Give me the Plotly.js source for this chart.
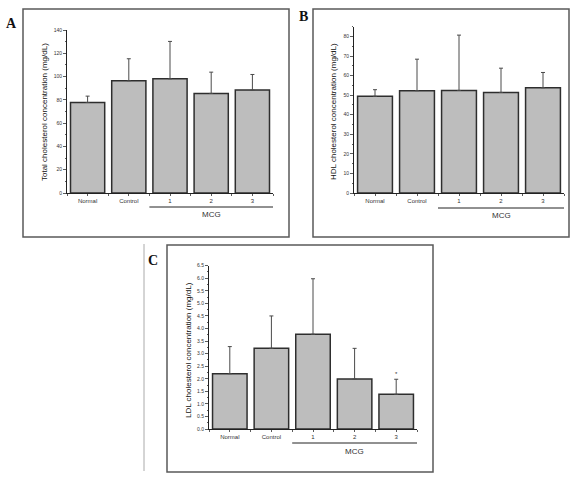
<!DOCTYPE html>
<html>
<head>
<meta charset="utf-8">
<script src="https://cdn.plot.ly/plotly-3.0.1.min.js"></script>
<style>
  html, body { margin: 0; padding: 0; background: #ffffff; }
  #chart { width: 588px; height: 481px; }
</style>
</head>
<body>
<div id="chart"></div>
<script>
// Groups on the x axis (the last three are MCG doses)
const categories = ["Normal", "Control", "1", "2", "3"];

// Panel A: total cholesterol (mg/dL), mean and SD
const totalMean = [77.7, 96.4, 98.1, 85.5, 88.4];
const totalSD   = [5.5, 18.9, 32.1, 18.3, 13.4];

// Panel B: HDL cholesterol (mg/dL)
const hdlMean = [49.4, 52.3, 52.4, 51.4, 53.8];
const hdlSD   = [3.4, 16.1, 28.3, 12.4, 7.8];

// Panel C: LDL cholesterol (mg/dL)
const ldlMean = [2.20, 3.21, 3.77, 1.99, 1.38];
const ldlSD   = [1.08, 1.29, 2.21, 1.22, 0.60];

const W = 588, H = 481;
const px = v => v / W;          // pixel -> paper x
const py = v => 1 - v / H;      // pixel -> paper y

const sans = "Liberation Sans, Arial, sans-serif";
const yTickFont = { family: sans, size: 5, color: "#333" };
const xTickFont = { family: sans, size: 6, color: "#333" };
const positions = categories.map((c, i) => i);

function barTrace(means, sds, xa, ya) {
  return {
    type: "bar",
    x: positions,
    y: means,
    xaxis: xa,
    yaxis: ya,
    width: 0.83,
    marker: { color: "#bdbdbd", line: { color: "#2e2e2e", width: 1.5 } },
    error_y: {
      type: "data",
      symmetric: false,
      array: sds,
      arrayminus: sds.map(() => 0),
      color: "#4a4a4a",
      thickness: 1,
      width: 2
    },
    hoverinfo: "skip",
    showlegend: false
  };
}

function xAxis(domain, anchor) {
  return {
    domain: domain,
    anchor: anchor,
    range: [-0.5, 4.5],
    tickmode: "array",
    tickvals: positions,
    ticktext: categories,
    ticks: "outside",
    ticklen: 2,
    tickwidth: 0.8,
    tickcolor: "#333",
    minor: { tick0: 0.5, dtick: 1, ticks: "outside", ticklen: 2, tickcolor: "#333", tickwidth: 0.8 },
    showline: true,
    linecolor: "#222",
    linewidth: 1,
    showgrid: false,
    zeroline: false,
    fixedrange: true,
    tickfont: xTickFont
  };
}

function yAxis(domain, anchor, range, dtick, minorDtick, fmt) {
  return {
    domain: domain,
    anchor: anchor,
    range: range,
    tick0: 0,
    dtick: dtick,
    tickformat: fmt,
    ticks: "outside",
    ticklen: 3,
    tickwidth: 0.8,
    tickcolor: "#333",
    minor: { dtick: minorDtick, ticks: "outside", ticklen: 1.5, tickcolor: "#333", tickwidth: 0.8 },
    showline: true,
    linecolor: "#222",
    linewidth: 1,
    showgrid: false,
    zeroline: false,
    fixedrange: true,
    tickfont: yTickFont
  };
}

const data = [
  barTrace(totalMean, totalSD, "x", "y"),
  barTrace(hdlMean, hdlSD, "x2", "y2"),
  barTrace(ldlMean, ldlSD, "x3", "y3")
];

const boxLine = { color: "#5a5a5a", width: 1.5 };
const groupLine = { color: "#222222", width: 1 };

const shapes = [
  // panel frames
  { type: "rect", xref: "paper", yref: "paper", x0: px(23), x1: px(289), y0: py(237), y1: py(9), line: boxLine },
  { type: "rect", xref: "paper", yref: "paper", x0: px(313), x1: px(569), y0: py(237), y1: py(9), line: boxLine },
  { type: "rect", xref: "paper", yref: "paper", x0: px(167), x1: px(433), y0: py(472), y1: py(245), line: boxLine },
  // thin rule to the left of panel C
  { type: "line", xref: "paper", yref: "paper", x0: px(144), x1: px(144), y0: py(244), y1: py(471), line: { color: "#aaaaaa", width: 1 } },
  // MCG group brackets under doses 1-3
  { type: "line", xref: "x", yref: "paper", x0: 1.5, x1: 4.5, y0: py(207), y1: py(207), line: groupLine },
  { type: "line", xref: "x2", yref: "paper", x0: 1.5, x1: 4.5, y0: py(208), y1: py(208), line: groupLine },
  { type: "line", xref: "x3", yref: "paper", x0: 1.5, x1: 4.5, y0: py(443), y1: py(443), line: groupLine }
];

const letterFont = { family: "Liberation Serif, Times New Roman, serif", size: 14, color: "#111" };
const titleFont = { family: sans, size: 8, color: "#111" };
const mcgFont = { family: sans, size: 8, color: "#333" };

// every annotation is centred on its anchor point
const centred = { xanchor: "center", yanchor: "middle", showarrow: false };

const annotations = [
  { text: "<b>A</b>", xref: "paper", yref: "paper", x: px(12), y: py(23), font: letterFont },
  { text: "<b>B</b>", xref: "paper", yref: "paper", x: px(303), y: py(16), font: letterFont },
  { text: "<b>C</b>", xref: "paper", yref: "paper", x: px(153), y: py(260), font: letterFont },

  { text: "Total cholesterol concentration (mg/dL)", xref: "paper", yref: "paper", x: px(44), y: py(112), textangle: -90, font: titleFont },
  { text: "HDL cholesterol concentration (mg/dL)", xref: "paper", yref: "paper", x: px(333), y: py(112), textangle: -90, font: titleFont },
  { text: "LDL cholesterol concentration (mg/dL)", xref: "paper", yref: "paper", x: px(188), y: py(350), textangle: -90, font: titleFont },

  { text: "MCG", xref: "x", yref: "paper", x: 3, y: py(214), font: mcgFont },
  { text: "MCG", xref: "x2", yref: "paper", x: 3, y: py(215), font: mcgFont },
  { text: "MCG", xref: "x3", yref: "paper", x: 3, y: py(451), font: mcgFont },

  // significance mark above the highest MCG dose in panel C
  { text: "*", xref: "x3", yref: "y3", x: 4, y: ldlMean[4] + ldlSD[4], yshift: 5, font: { family: sans, size: 6, color: "#333" } }
].map(a => Object.assign({}, centred, a));

const layout = {
  width: W,
  height: H,
  margin: { l: 0, r: 0, t: 0, b: 0 },
  paper_bgcolor: "#ffffff",
  plot_bgcolor: "rgba(0,0,0,0)",
  bargap: 0,
  showlegend: false,
  xaxis:  xAxis([px(67), px(273)], "y"),
  yaxis:  yAxis([py(193), py(30)], "x", [0, 140], 20, 10, "d"),
  xaxis2: xAxis([px(354), px(564)], "y2"),
  yaxis2: yAxis([py(193), py(26.7)], "x2", [0, 85], 10, 5, "d"),
  xaxis3: xAxis([px(209), px(417)], "y3"),
  yaxis3: yAxis([py(429), py(265.7)], "x3", [0, 6.5], 0.5, 0.25, ".1f"),
  shapes: shapes,
  annotations: annotations
};

Plotly.newPlot("chart", data, layout, { staticPlot: true, displayModeBar: false });
</script>
</body>
</html>
